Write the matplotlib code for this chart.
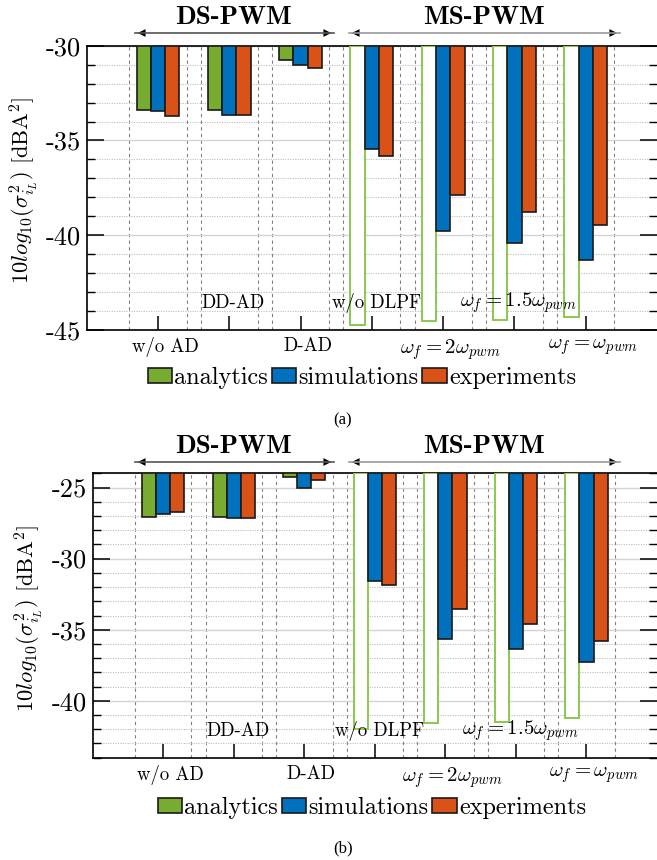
import numpy as np
import matplotlib
matplotlib.use("Agg")
import matplotlib.pyplot as plt
from matplotlib.ticker import MultipleLocator, FixedLocator
from matplotlib.patches import Patch
import matplotlib.transforms as mtransforms

plt.rcParams['font.family'] = ['cmr10', 'DejaVu Serif']
plt.rcParams['mathtext.fontset'] = 'cm'
plt.rcParams['axes.unicode_minus'] = False

# ---------------- data ----------------
categories = ["w/o AD", "DD-AD", "D-AD", "w/o DLPF",
              r"$\omega_f = 2\omega_{pwm}$", r"$\omega_f = 1.5\omega_{pwm}$",
              r"$\omega_f = \omega_{pwm}$"]
series_names = ["analytics", "simulations", "experiments"]

a_analytics = [-33.38, -33.38, -30.74, -44.74, -44.53, -44.46, -44.33]
a_simulations = [-33.44, -33.65, -31.02, -35.47, -39.77, -40.42, -41.33]
a_experiments = [-33.72, -33.65, -31.19, -35.84, -37.88, -38.79, -39.47]

b_analytics = [-27.07, -27.07, -24.28, -41.96, -41.58, -41.47, -41.23]
b_simulations = [-26.84, -27.12, -25.05, -31.55, -35.67, -36.33, -37.25]
b_experiments = [-26.74, -27.16, -24.49, -31.86, -33.52, -34.58, -35.81]

a_ylim = (-45, -30)
b_ylim = (-44, -24)
a_yticks = [-45, -40, -35, -30]
b_yticks = [-40, -35, -30, -25]

# ---------------- style ----------------
GREEN = '#77AC30'
BLUE = '#0072BD'
ORANGE = '#D95319'
W, H = 657, 860

fig = plt.figure(figsize=(W / 100, H / 100), dpi=100)


def px_box(left, top, right, bottom):
    return [left / W, 1 - bottom / H, (right - left) / W, (bottom - top) / H]


def draw_panel(ax, analytics, sims, exps, ylim, yticks):
    n = len(categories)
    x = np.arange(1, n + 1)
    base = ylim[1]
    bw = 0.2
    ax.set_xlim(0, 8)
    ax.set_ylim(*ylim)
    # grids
    ax.yaxis.set_major_locator(FixedLocator(yticks))
    ax.yaxis.set_minor_locator(MultipleLocator(1))
    ax.grid(axis='y', which='major', color='#d4d4d4', lw=1.0, ls='-', zorder=0)
    ax.grid(axis='y', which='minor', color='#bcbcbc', lw=0.8, ls=(0, (1, 1.2)), zorder=0)
    for xi in x:
        for d in (-0.4, 0.4):
            ax.axvline(xi + d, color='#808080', lw=0.8, ls=(0, (3, 3)), zorder=1)
    # bars
    an = np.array(analytics)
    ms = x >= 4
    ax.bar(x[~ms] - bw, an[~ms] - base, bottom=base, width=bw, color=GREEN,
           edgecolor='#1a1a1a', lw=1.2, zorder=3)
    ax.bar(x[ms] - bw, an[ms] - base, bottom=base, width=bw, color='white',
           edgecolor='#8cc850', lw=1.4, zorder=3)
    ax.bar(x, np.array(sims) - base, bottom=base, width=bw, color=BLUE,
           edgecolor='#1a1a1a', lw=1.2, zorder=3)
    ax.bar(x + bw, np.array(exps) - base, bottom=base, width=bw, color=ORANGE,
           edgecolor='#1a1a1a', lw=1.2, zorder=3)
    # ticks
    ax.set_yticklabels([str(t) for t in yticks], fontsize=19)
    ax.tick_params(axis='y', which='major', direction='in', length=12, width=1.1,
                   left=True, right=True, pad=4)
    ax.tick_params(axis='y', which='minor', direction='in', length=6, width=1.0,
                   left=True, right=True)
    ax.set_xticks(x)
    ax.set_xticklabels([])
    ax.tick_params(axis='x', which='both', direction='in', length=10, width=1.1,
                   top=False, bottom=True)
    for s in ax.spines.values():
        s.set_linewidth(1.2)
    ax.spines['right'].set_visible(False)
    # staggered category labels
    trans = mtransforms.blended_transform_factory(ax.transData, ax.transAxes)
    for i, lab in enumerate(categories):
        fs = 15 if lab.startswith('$') else 13.5
        if i % 2 == 0:
            ax.text(x[i] + 0.1, -0.025, lab, transform=trans, ha='center', va='top',
                    fontsize=fs)
        else:
            ax.text(x[i] + 0.06, 0.095, lab, transform=trans, ha='center',
                    va='center', fontsize=fs, zorder=5)
    ax.set_ylabel(r"$10log_{10}(\sigma_{i_L}^2)\ [\mathrm{dBA}^2]$", fontsize=16.2)


def draw_header(y_text, y_arrow):
    def arrow(x0, x1, linecolor):
        fig.add_artist(plt.Line2D([x0 / W, x1 / W], [1 - y_arrow / H] * 2,
                                  color=linecolor, lw=1.2))
        for xs, xe in ((x0 + 12, x0), (x1 - 12, x1)):
            fig.add_artist(matplotlib.patches.FancyArrowPatch(
                (xs / W, 1 - y_arrow / H), (xe / W, 1 - y_arrow / H),
                transform=fig.transFigure, arrowstyle='-|>', mutation_scale=14,
                color='black', lw=0))
    arrow(135, 334, '#555555')
    arrow(349, 620, '#9a9a9a')
    fig.text(233 / W, 1 - y_text / H, "DS-PWM", family='cmb10', fontsize=19.5,
             ha='center', va='center')
    fig.text(484 / W, 1 - y_text / H, "MS-PWM", family='cmb10', fontsize=19.5,
             ha='center', va='center')


def draw_legend(xc, yc):
    handles = [Patch(facecolor=c, edgecolor='#1a1a1a', lw=1.2)
               for c in (GREEN, BLUE, ORANGE)]
    fig.legend(handles, series_names, loc='center', bbox_to_anchor=(xc / W, 1 - yc / H),
               ncol=3, frameon=False, fontsize=17.5, handlelength=1.0,
               handleheight=0.6, handletextpad=0.1, columnspacing=0.15,
               borderpad=0, borderaxespad=0)


ax1 = fig.add_axes(px_box(86.7, 45.7, 657, 330))
draw_panel(ax1, a_analytics, a_simulations, a_experiments, a_ylim, a_yticks)
ax1.yaxis.set_label_coords(-0.082, 0.49)
draw_header(17, 33)
draw_legend(362, 378)
fig.text(343 / W, 1 - 420 / H, "(a)", family='Liberation Serif', fontsize=12,
         ha='center', va='center')

ax2 = fig.add_axes(px_box(92.7, 473.3, 657, 757.7))
draw_panel(ax2, b_analytics, b_simulations, b_experiments, b_ylim, b_yticks)
ax2.yaxis.set_label_coords(-0.084, 0.49)
draw_header(446, 462)
draw_legend(372, 808)
fig.text(343 / W, 1 - 848 / H, "(b)", family='Liberation Serif', fontsize=12,
         ha='center', va='center')

fig.savefig("out.png", dpi=100)
